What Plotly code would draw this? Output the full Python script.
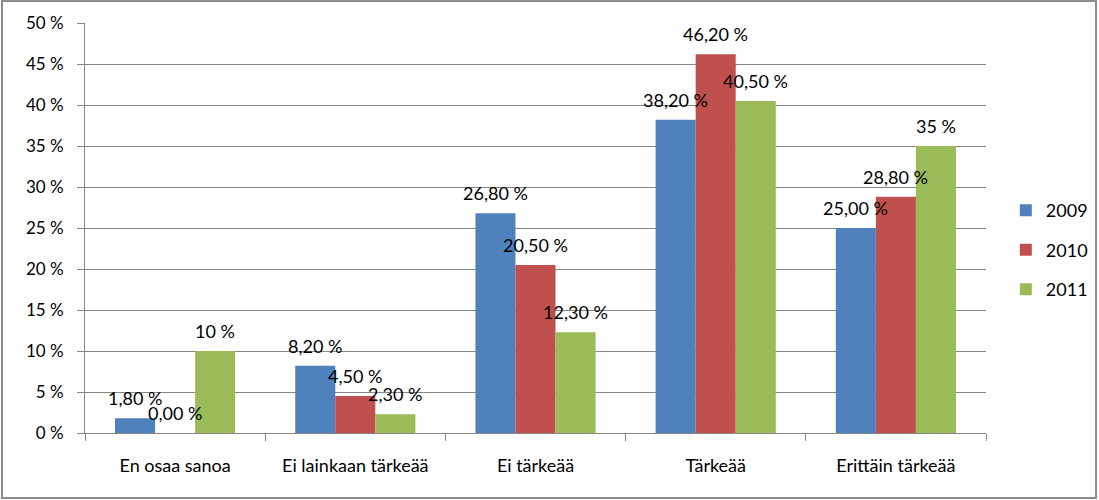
import plotly.graph_objects as go

categories = ["En osaa sanoa", "Ei lainkaan tärkeää", "Ei tärkeää", "Tärkeää", "Erittäin tärkeää"]
years = ["2009", "2010", "2011"]
values_2009 = [1.8, 8.2, 26.8, 38.2, 25.0]
values_2010 = [0.0, 4.5, 20.5, 46.2, 28.8]
values_2011 = [10.0, 2.3, 12.3, 40.5, 35.0]
labels_2009 = ["1,80 %", "8,20 %", "26,80 %", "38,20 %", "25,00 %"]
labels_2010 = ["0,00 %", "4,50 %", "20,50 %", "46,20 %", "28,80 %"]
labels_2011 = ["10 %", "2,30 %", "12,30 %", "40,50 %", "35 %"]
y_ticks = [0, 5, 10, 15, 20, 25, 30, 35, 40, 45, 50]
y_tick_text = [f"{v} %" for v in y_ticks]

colors = ["#4F81BD", "#C0504D", "#9BBB59"]
series = [values_2009, values_2010, values_2011]
series_labels = [labels_2009, labels_2010, labels_2011]

FONT = "Lato"
W, H = 1099, 500
ml, mr, mt, mb = 85, 113, 23, 67

fig = go.Figure()
for i, (yr, vals, col) in enumerate(zip(years, series, colors)):
    fig.add_trace(go.Bar(x=categories, y=vals, name=yr, marker=dict(color=col, line=dict(width=0)),
                         legendgroup=yr))

plot_w = W - ml - mr
plot_h = H - mt - mb
cat_w = plot_w / len(categories)
bar_w = cat_w * (1 - 1/3) / 3
for i, (vals, labs) in enumerate(zip(series, series_labels)):
    for c, v, t in zip(categories, vals, labs):
        fig.add_annotation(x=c, y=v, text=t, showarrow=False, xshift=(i - 1) * bar_w,
                           yshift=20, font=dict(family=FONT, size=18, color="#000"))

fig.update_layout(
    width=W, height=H,
    margin=dict(l=ml, r=mr, t=mt, b=mb, autoexpand=False),
    paper_bgcolor="white", plot_bgcolor="white",
    barmode="group", bargap=1/3, bargroupgap=0,
    font=dict(family=FONT, size=17, color="#000"),
    showlegend=True,
    legend=dict(x=1.022, y=0.446, xanchor="left", yanchor="middle", tracegroupgap=13,
                font=dict(family=FONT, size=18), itemwidth=30),
    xaxis=dict(showline=True, linecolor="#868686", linewidth=1, ticks="outside", ticklen=7,
               tickcolor="#868686", tickson="boundaries", ticklabelstandoff=16,
               tickfont=dict(family=FONT, size=18)),
    yaxis=dict(range=[0, 50], tickvals=y_ticks, ticktext=y_tick_text, showline=True,
               linecolor="#868686", linewidth=1, ticks="outside", ticklen=7, tickcolor="#868686",
               showgrid=True, gridcolor="#868686", gridwidth=1, zeroline=False,
               ticklabelstandoff=10, tickfont=dict(family=FONT, size=17)),
    shapes=[dict(type="rect", xref="paper", yref="paper",
                 x0=(2 - ml) / plot_w, x1=(W - 3 - ml) / plot_w,
                 y0=-(mb - 2) / plot_h, y1=(H - mb - 1) / plot_h,
                 line=dict(color="#8c8c8c", width=2), fillcolor="rgba(0,0,0,0)", layer="above")],
)

fig.write_html("out.html")
